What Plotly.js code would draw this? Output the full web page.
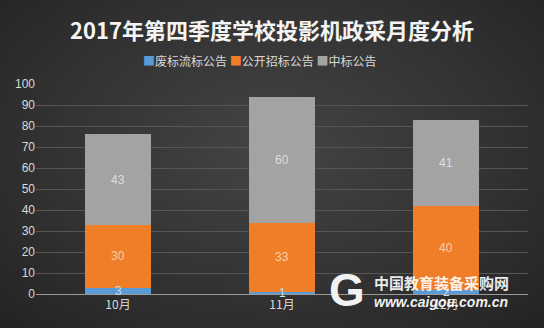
<!DOCTYPE html>
<html><head><meta charset="utf-8">
<script src="https://cdn.plot.ly/plotly-3.0.1.min.js"></script>
<style>
html,body{margin:0;padding:0;}
body{width:544px;height:328px;background:radial-gradient(ellipse at 50% 45%, #444444 0%, #333333 55%, #232323 100%);}
#chart{width:544px;height:328px;}
</style></head>
<body><div id="chart"></div>
<script>
const months = ['10月', '11月', '12月'];
const seriesNames = ['废标流标公告', '公开招标公告', '中标公告'];
const abandoned = [3, 1, 2];
const openTender = [30, 33, 40];
const awarded = [43, 60, 41];
const yTicks = [0, 10, 20, 30, 40, 50, 60, 70, 80, 90, 100];

const colors = ['#5b9bd5', '#f07d28', '#a3a3a3'];
const textColors = ['#c9dcf0', '#f9cfac', '#dedede'];
const vals = [abandoned, openTender, awarded];

const traces = vals.map((v, i) => ({
  type: 'bar', name: seriesNames[i], x: months, y: v,
  marker: {color: colors[i], line: {width: 0}},
  textposition: 'none', hoverinfo: 'none', showlegend: false
}));

// value labels centred in each stacked segment (drawn above all bars)
const labelAnns = [];
months.forEach((m, j) => {
  let base = 0;
  vals.forEach((v, i) => {
    labelAnns.push({text: String(v[j]), x: m, y: base + v[j] / 2, xref: 'x', yref: 'y',
      showarrow: false, xanchor: 'center', yanchor: 'middle',
      font: {family: 'Liberation Sans, sans-serif', size: 12, color: textColors[i]}});
    base += v[j];
  });
});

const legendText = seriesNames.map((n, i) =>
  '<span style="color:' + colors[i] + '">■</span>' + n).join(' ');

const layout = {
  width: 544, height: 328,
  paper_bgcolor: 'rgba(0,0,0,0)', plot_bgcolor: 'rgba(0,0,0,0)',
  margin: {l: 36, r: 16, t: 84, b: 34, autoexpand: false},
  barmode: 'stack', bargap: 0.6,
  title: {text: '2017年第四季度学校投影机政采月度分析', x: 0.5, xanchor: 'center', y: 0.905, yanchor: 'middle',
    font: {family: 'Noto Sans CJK SC, sans-serif', size: 22, color: '#f4f4f4', weight: 'bold'}},
  showlegend: false,
  xaxis: {showgrid: false, zeroline: false, showline: true, linecolor: '#9a9a9a', linewidth: 1, automargin: false,
    tickfont: {family: 'Noto Sans CJK SC, sans-serif', size: 12, color: '#d9d9d9'}, ticks: '', fixedrange: true},
  yaxis: {range: [0, 100], tickvals: yTicks, ticktext: yTicks.map(String), showgrid: true, gridcolor: '#565656', gridwidth: 1,
    zeroline: false, showline: false, ticks: '', ticklen: 0, automargin: false,
    tickfont: {family: 'Liberation Sans, sans-serif', size: 12, color: '#d9d9d9'}, fixedrange: true},
  annotations: labelAnns.concat([
    {text: legendText, xref: 'paper', yref: 'paper', x: 0.455, y: 1.114, xanchor: 'center', yanchor: 'middle', showarrow: false,
      font: {family: 'Noto Sans CJK SC, sans-serif', size: 12, color: '#d9d9d9'}},
    {text: '中国教育装备采购网', xref: 'paper', yref: 'paper', x: 0.683, y: 0.057, xanchor: 'left', yanchor: 'middle', showarrow: false,
      font: {family: 'Noto Sans CJK SC, sans-serif', size: 15, color: 'rgba(255,255,255,0.92)', weight: 'bold'}},
    {text: '<i>www.caigou.com.cn</i>', xref: 'paper', yref: 'paper', x: 0.683, y: -0.038, xanchor: 'left', yanchor: 'middle', showarrow: false,
      font: {family: 'Liberation Sans, sans-serif', size: 14, color: 'rgba(255,255,255,0.95)', weight: 'bold'}},
    {text: '<b>G</b>', xref: 'paper', yref: 'paper', x: 0.632, y: 0.019, xanchor: 'center', yanchor: 'middle', showarrow: false,
      font: {family: 'Liberation Sans, sans-serif', size: 46, color: 'rgba(255,255,255,0.95)'}}
  ])
};

Plotly.newPlot('chart', traces, layout, {staticPlot: true, displayModeBar: false});
</script></body></html>
